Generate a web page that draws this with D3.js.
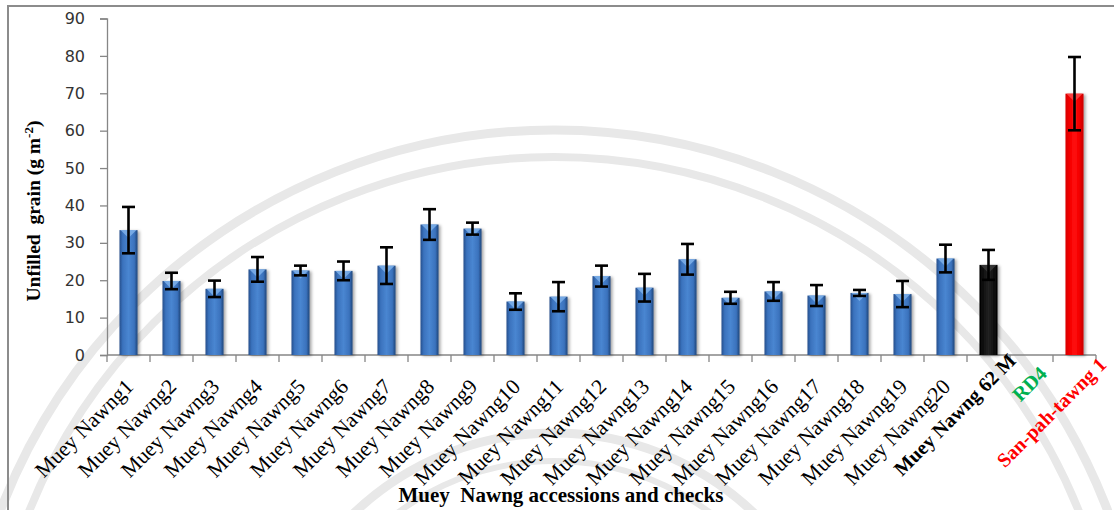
<!DOCTYPE html>
<html>
<head>
<meta charset="utf-8">
<script src="https://cdn.jsdelivr.net/npm/d3@7"></script>
<style>
  html, body { margin: 0; padding: 0; background: #fff; overflow: hidden; }
  svg { display: block; }
</style>
</head>
<body>
<svg id="chart" width="1114" height="510"></svg>
<script>
// Unfilled grain per accession and check variety (mean ± SE)
const categories = [
  "Muey Nawng1", "Muey Nawng2", "Muey Nawng3", "Muey Nawng4", "Muey Nawng5",
  "Muey Nawng6", "Muey Nawng7", "Muey Nawng8", "Muey Nawng9", "Muey Nawng10",
  "Muey Nawng11", "Muey Nawng12", "Muey Nawng13", "Muey Nawng14", "Muey Nawng15",
  "Muey Nawng16", "Muey Nawng17", "Muey Nawng18", "Muey Nawng19", "Muey Nawng20",
  "Muey Nawng 62 M", "RD4", "San-pah-tawng 1"
];
const unfilledGrain = [
  33.4, 19.8, 17.7, 22.9, 22.6, 22.5, 23.9, 34.9, 33.8, 14.3,
  15.6, 21.1, 18.0, 25.6, 15.3, 17.0, 15.9, 16.6, 16.3, 25.8,
  24.1, null, 69.9
];
const standardError = [
  6.2, 2.2, 2.2, 3.3, 1.3, 2.5, 4.9, 4.1, 1.6, 2.2,
  3.9, 2.8, 3.7, 4.1, 1.6, 2.5, 2.8, 0.8, 3.5, 3.7,
  4.0, null, 9.8
];
const yTicks = [0, 10, 20, 30, 40, 50, 60, 70, 80, 90];
const yTitle = "Unfilled  grain (g m";
const yTitleSup = "-2";
const yTitleEnd = ")";
const xTitle = "Muey  Nawng accessions and checks";

const svg = d3.select("#chart");
const plot = { left: 107, right: 1096, top: 18.5, bottom: 355 };

// look of the check varieties: bar fill, label colour and label anchor offset
const checkStyle = {
  "Muey Nawng 62 M": { bar: "black", label: "#000000", dx: 28.5, y: 362 },
  "RD4": { bar: "green", label: "#00b050", dx: 16.5, y: 375 },
  "San-pah-tawng 1": { bar: "red", label: "#ff0000", dx: 33, y: 366 }
};

const defs = svg.append("defs");
function hGrad(id, stops) {
  const g = defs.append("linearGradient").attr("id", id)
    .attr("x1", "0%").attr("x2", "100%").attr("y1", "0%").attr("y2", "0%");
  stops.forEach(([o, c]) => g.append("stop").attr("offset", o).attr("stop-color", c));
}
hGrad("g-blue", [["0%", "#264f8c"], ["18%", "#3a72bd"], ["50%", "#4a86d1"], ["82%", "#3a72bd"], ["100%", "#1f4579"]]);
hGrad("g-black", [["0%", "#000"], ["30%", "#151515"], ["50%", "#222"], ["70%", "#151515"], ["100%", "#000"]]);
hGrad("g-red", [["0%", "#d80000"], ["25%", "#f50000"], ["50%", "#ff1010"], ["75%", "#f50000"], ["100%", "#c80000"]]);
const sh = defs.append("filter").attr("id", "shadow")
  .attr("x", "-40%").attr("y", "-10%").attr("width", "180%").attr("height", "120%");
sh.append("feDropShadow").attr("dx", 2).attr("dy", 1).attr("stdDeviation", 1.6)
  .attr("flood-color", "#000").attr("flood-opacity", 0.35);

// faint seal rings in the background
const seal = svg.append("g").attr("fill", "none").attr("stroke", "#e8e8e8");
[[593, 9], [566, 8], [290, 9], [262, 6]].forEach(([r, w]) =>
  seal.append("circle").attr("cx", 554).attr("cy", 723).attr("r", r).attr("stroke-width", w));

// outer frame
svg.append("rect").attr("x", 8).attr("y", 6).attr("width", 1200).attr("height", 600)
  .attr("fill", "none").attr("stroke", "#8c8c8c").attr("stroke-width", 2);

const x = d3.scaleBand().domain(categories)
  .range([plot.left, plot.right]).paddingInner(0.58).paddingOuter(0.29);
const y = d3.scaleLinear().domain([0, 90]).range([plot.bottom, plot.top]);
const step = x.step(), bw = x.bandwidth();

// y axis
const yAxis = svg.append("g").attr("transform", `translate(${plot.left},0)`)
  .call(d3.axisLeft(y).tickValues(yTicks).tickSize(7).tickPadding(15).tickFormat(d3.format("d")));
yAxis.select(".domain").attr("stroke", "#868686").attr("stroke-width", 1.3);
yAxis.selectAll(".tick line").attr("stroke", "#868686").attr("stroke-width", 1.3);
yAxis.selectAll(".tick text").attr("fill", "#333").attr("font-family", "DejaVu Sans")
  .attr("font-size", 16);

// x axis line with ticks at category boundaries
const xAxis = svg.append("g");
xAxis.append("line").attr("x1", plot.left).attr("x2", plot.right)
  .attr("y1", y(0)).attr("y2", y(0)).attr("stroke", "#868686").attr("stroke-width", 1.3);
xAxis.selectAll("line.tk").data(d3.range(categories.length + 1)).join("line")
  .attr("class", "tk")
  .attr("x1", i => plot.left + i * step).attr("x2", i => plot.left + i * step)
  .attr("y1", y(0)).attr("y2", y(0) + 7)
  .attr("stroke", "#868686").attr("stroke-width", 1.3);

// bars
const data = categories.map((c, i) => ({ c, v: unfilledGrain[i], e: standardError[i] }))
  .filter(d => d.v != null);
const fillOf = d => {
  const s = checkStyle[d.c];
  if (!s) return "url(#g-blue)";
  return s.bar === "black" ? "url(#g-black)" : s.bar === "red" ? "url(#g-red)" : "#00b050";
};
const bars = svg.append("g");
bars.selectAll("rect").data(data).join("rect")
  .attr("x", d => x(d.c)).attr("width", bw)
  .attr("y", d => y(d.v)).attr("height", d => y(0) - y(d.v))
  .attr("fill", fillOf).attr("filter", "url(#shadow)");
// bevel highlight on top of each bar
bars.selectAll("path.bevel").data(data).join("path").attr("class", "bevel")
  .attr("d", d => {
    const x0 = x(d.c), t = y(d.v);
    return `M${x0 + 1},${t} L${x0 + bw - 1},${t} L${x0 + bw / 2},${t + 8} Z`;
  })
  .attr("fill", d => checkStyle[d.c] ? (checkStyle[d.c].bar === "red" ? "#ff4a4a" : "#3a3a3a") : "#7fb2ea")
  .attr("opacity", 0.85);

// error bars
const eb = svg.append("g").attr("stroke", "#000").attr("stroke-width", 2.6).attr("fill", "none");
const cap = 6.5;
data.filter(d => d.e != null).forEach(d => {
  const cx = x(d.c) + bw / 2;
  const y1 = y(d.v + d.e), y2 = y(d.v - d.e);
  eb.append("line").attr("x1", cx).attr("x2", cx).attr("y1", y1).attr("y2", y2);
  eb.append("line").attr("x1", cx - cap).attr("x2", cx + cap).attr("y1", y1).attr("y2", y1);
  eb.append("line").attr("x1", cx - cap).attr("x2", cx + cap).attr("y1", y2).attr("y2", y2);
});

// rotated category labels
const labels = svg.append("g");
categories.forEach(c => {
  const cx = x(c) + bw / 2;
  const s = checkStyle[c];
  const dx = s ? s.dx : 6;
  const ly = s ? s.y : 388;
  labels.append("text")
    .attr("transform", `translate(${cx + dx},${ly}) rotate(-45)`)
    .attr("text-anchor", "end")
    .attr("font-family", "Liberation Serif")
    .attr("font-size", s ? 20 : 21.5)
    .attr("font-weight", s ? "bold" : "normal")
    .attr("fill", s ? s.label : "#000")
    .text(c);
});

// axis titles
const yt = svg.append("text")
  .attr("transform", "translate(40,211) rotate(-90)")
  .attr("text-anchor", "middle")
  .attr("font-family", "Liberation Serif").attr("font-weight", "bold").attr("font-size", 19.5)
  .attr("fill", "#000").style("white-space", "pre");
yt.append("tspan").text(yTitle);
yt.append("tspan").attr("font-size", 13).attr("dy", -7).text(yTitleSup);
yt.append("tspan").attr("dy", 7).text(yTitleEnd);

svg.append("text")
  .attr("x", 561).attr("y", 502)
  .attr("text-anchor", "middle")
  .attr("font-family", "Liberation Serif").attr("font-weight", "bold").attr("font-size", 21)
  .attr("fill", "#000").style("white-space", "pre")
  .text(xTitle);
</script>
</body>
</html>
